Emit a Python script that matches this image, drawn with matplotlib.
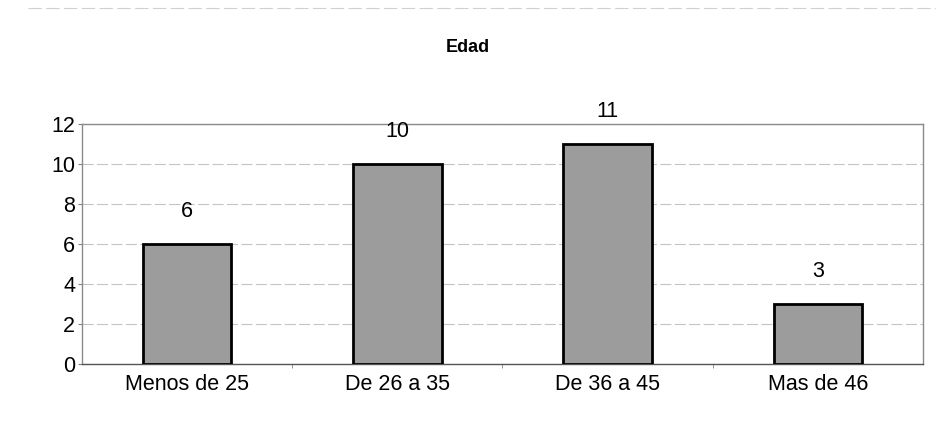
import matplotlib
matplotlib.use('Agg')
from matplotlib import pyplot as plt
from matplotlib.lines import Line2D

categorias = ['Menos de 25', 'De 26 a 35', 'De 36 a 45', 'Mas de 46']
valores = [6, 10, 11, 3]
y_ticks = [0, 2, 4, 6, 8, 10, 12]

plt.rcParams['font.family'] = ['Liberation Sans', 'DejaVu Sans']

fig = plt.figure(figsize=(9.36, 4.46), dpi=100)
ax = fig.add_axes([0.0876, 0.184, 0.8985, 0.538])

x = list(range(len(categorias)))
ax.bar(x, valores, width=0.42, color='#9c9c9c', edgecolor='black', linewidth=2, zorder=3)

for xi, v in zip(x, valores):
    ax.annotate(str(v), (xi, v), xytext=(0, 16), textcoords='offset points',
                ha='center', va='bottom', fontsize=15.5)

ax.set_xlim(-0.5, len(categorias) - 0.5)
ax.set_ylim(0, 12)
ax.set_yticks(y_ticks)
ax.set_xticks(x)
ax.set_xticklabels(categorias)
ax.set_xticks([i + 0.5 for i in x[:-1]], minor=True)

ax.tick_params(axis='both', labelsize=15.5, colors='black')
ax.tick_params(axis='x', which='major', length=0, pad=7)
ax.tick_params(axis='x', which='minor', length=3, color='#808080')
ax.tick_params(axis='y', length=3, color='#808080', pad=2)

ax.grid(True, axis='y', color='#c4c4c4', linestyle=(0, (10, 3)), linewidth=0.8, zorder=0)
for s in ax.spines.values():
    s.set_color('#8a8a8a')
    s.set_linewidth(1)
ax.spines['bottom'].set_color('#555555')

fig.text(0.5, 0.893, 'Edad', ha='center', va='center', fontsize=13, fontweight='bold')

# faint line at the top of the scanned page
fig.add_artist(Line2D([0.03, 1.0], [0.982, 0.982], color='#d0d0d0',
                      linestyle=(0, (12, 4)), linewidth=0.8))

fig.savefig('out.png', dpi=100)
